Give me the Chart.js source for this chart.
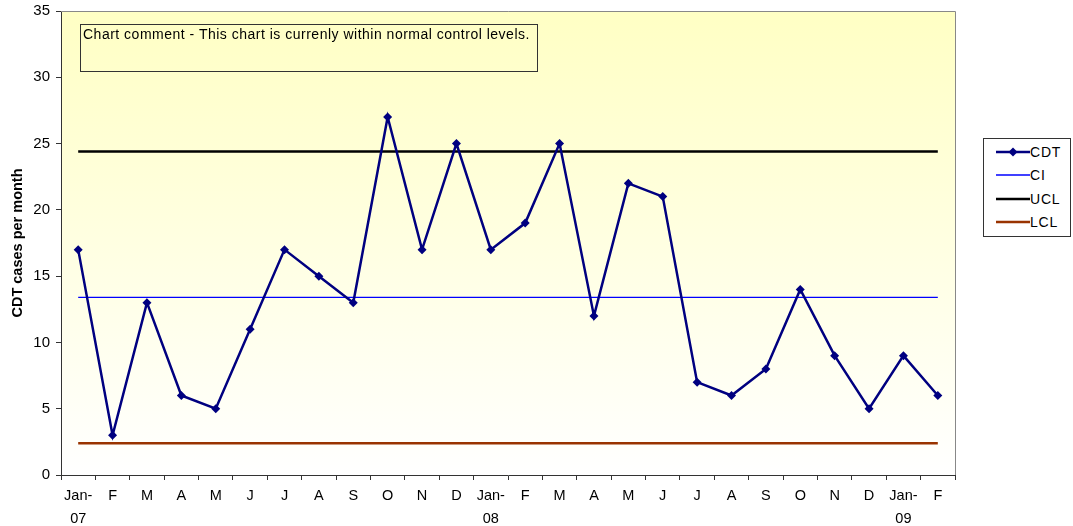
<!DOCTYPE html>
<html><head><meta charset="utf-8">
<script src="https://cdn.jsdelivr.net/npm/chart.js@4/dist/chart.umd.min.js"></script>
<style>
html,body{margin:0;padding:0;background:#fff;}
#wrap{position:relative;width:1073px;height:526px;font-family:"Liberation Sans",Arial,sans-serif;}
#comment{position:absolute;left:80px;top:24px;width:458px;height:48px;border:1px solid #333;font-size:14px;letter-spacing:0.5px;color:#000;padding:1px 2px;box-sizing:border-box;line-height:17px;white-space:nowrap;}
#legend{position:absolute;left:983px;top:138px;width:88px;height:99px;border:1px solid #333;box-sizing:border-box;background:#fff;font-size:14px;letter-spacing:0.8px;color:#000;}
.li{position:absolute;left:12px;height:16px;display:flex;align-items:center;}
</style></head>
<body><div id="wrap">
<canvas id="c" width="1073" height="526"></canvas>
<div id="comment">Chart comment - This chart is currenly within normal control levels.</div>
<div id="legend">
 <div class="li" style="top:5px"><svg width="34" height="12"><line x1="0" y1="6" x2="34" y2="6" stroke="#000080" stroke-width="2.5"/><polygon points="17,1.5 21.5,6 17,10.5 12.5,6" fill="#000080"/></svg>CDT</div>
 <div class="li" style="top:28px"><svg width="34" height="12"><line x1="0" y1="6" x2="34" y2="6" stroke="#0000FF" stroke-width="1.5"/></svg>CI</div>
 <div class="li" style="top:52px"><svg width="34" height="12"><line x1="0" y1="6" x2="34" y2="6" stroke="#000" stroke-width="2.5"/></svg>UCL</div>
 <div class="li" style="top:75px"><svg width="34" height="12"><line x1="0" y1="6" x2="34" y2="6" stroke="#993300" stroke-width="2.5"/></svg>LCL</div>
</div>
</div>
<script>
const categories = [["Jan-","07"],"F","M","A","M","J","J","A","S","O","N","D",["Jan-","08"],"F","M","A","M","J","J","A","S","O","N","D",["Jan-","09"],"F"];
const cdtValues = [17,3,13,6,5,11,17,15,13,27,17,25,17,19,25,12,22,21,7,6,8,14,9,5,9,6];
const ciValue = 13.4;
const uclValue = 24.4;
const lclValue = 2.4;
const yTicks = [0,5,10,15,20,25,30,35];

const ciValues = categories.map(() => ciValue);
const uclValues = categories.map(() => uclValue);
const lclValues = categories.map(() => lclValue);

const bgPlugin = {
  id: 'bg',
  beforeDraw(chart) {
    const {ctx, chartArea: a} = chart;
    const g = ctx.createLinearGradient(0, a.top, 0, a.bottom);
    g.addColorStop(0, '#FFFFC4');
    g.addColorStop(1, '#FFFFFF');
    ctx.save();
    ctx.fillStyle = g;
    ctx.fillRect(a.left, a.top, a.right - a.left, a.bottom - a.top);
    ctx.restore();
  },
  afterDraw(chart) {
    const {ctx, chartArea: a} = chart;
    ctx.save();
    ctx.strokeStyle = '#888';
    ctx.lineWidth = 1;
    ctx.beginPath();
    ctx.moveTo(a.left, a.top + 0.5);
    ctx.lineTo(a.right + 0.5, a.top + 0.5);
    ctx.lineTo(a.right + 0.5, a.bottom);
    ctx.stroke();
    ctx.restore();
  }
};

Chart.defaults.font.family = '"Liberation Sans", Arial, sans-serif';
Chart.defaults.font.size = 14;
Chart.defaults.color = '#000';

new Chart(document.getElementById('c'), {
  type: 'line',
  data: {
    labels: categories,
    datasets: [
      {label: 'LCL', data: lclValues, borderColor: '#993300', borderWidth: 2.5, pointRadius: 0, order: 4},
      {label: 'UCL', data: uclValues, borderColor: '#000000', borderWidth: 2.5, pointRadius: 0, order: 3},
      {label: 'CI', data: ciValues, borderColor: '#0000FF', borderWidth: 1.2, pointRadius: 0, order: 2},
      {label: 'CDT', data: cdtValues, borderColor: '#000080', backgroundColor: '#000080', borderWidth: 2.5,
       pointStyle: 'rectRot', pointRadius: 4.5, pointBorderWidth: 0, pointBackgroundColor: '#000080', tension: 0, order: 1}
    ]
  },
  options: {
    responsive: false,
    animation: false,
    layout: {padding: {left: 9, top: 11, right: 118, bottom: 0}},
    plugins: {legend: {display: false}, tooltip: {enabled: false}},
    scales: {
      x: {
        type: 'category',
        offset: true,
        afterFit(scale) { scale.height = 51; },
        grid: {offset: true, display: true, drawOnChartArea: false, drawTicks: true, tickLength: 5, color: '#333'},
        border: {color: '#333', width: 1},
        ticks: {autoSkip: false, maxRotation: 0, padding: 4, font: {size: 14.5, lineHeight: 1.6}}
      },
      y: {
        min: 0, max: 35,
        afterBuildTicks(scale) { scale.ticks = yTicks.map(v => ({value: v})); },
        afterFit(scale) { scale.width = 52; scale.paddingTop = 0; },
        grid: {display: true, drawOnChartArea: false, drawTicks: true, tickLength: 5, color: '#333'},
        border: {color: '#333', width: 1},
        ticks: {padding: 6, font: {size: 15, lineHeight: 1.0}},
        title: {display: true, text: 'CDT cases per month', font: {size: 14.5, weight: 'bold'}, padding: {top: 0, bottom: 4}}
      }
    }
  },
  plugins: [bgPlugin]
});
</script>
</body></html>
